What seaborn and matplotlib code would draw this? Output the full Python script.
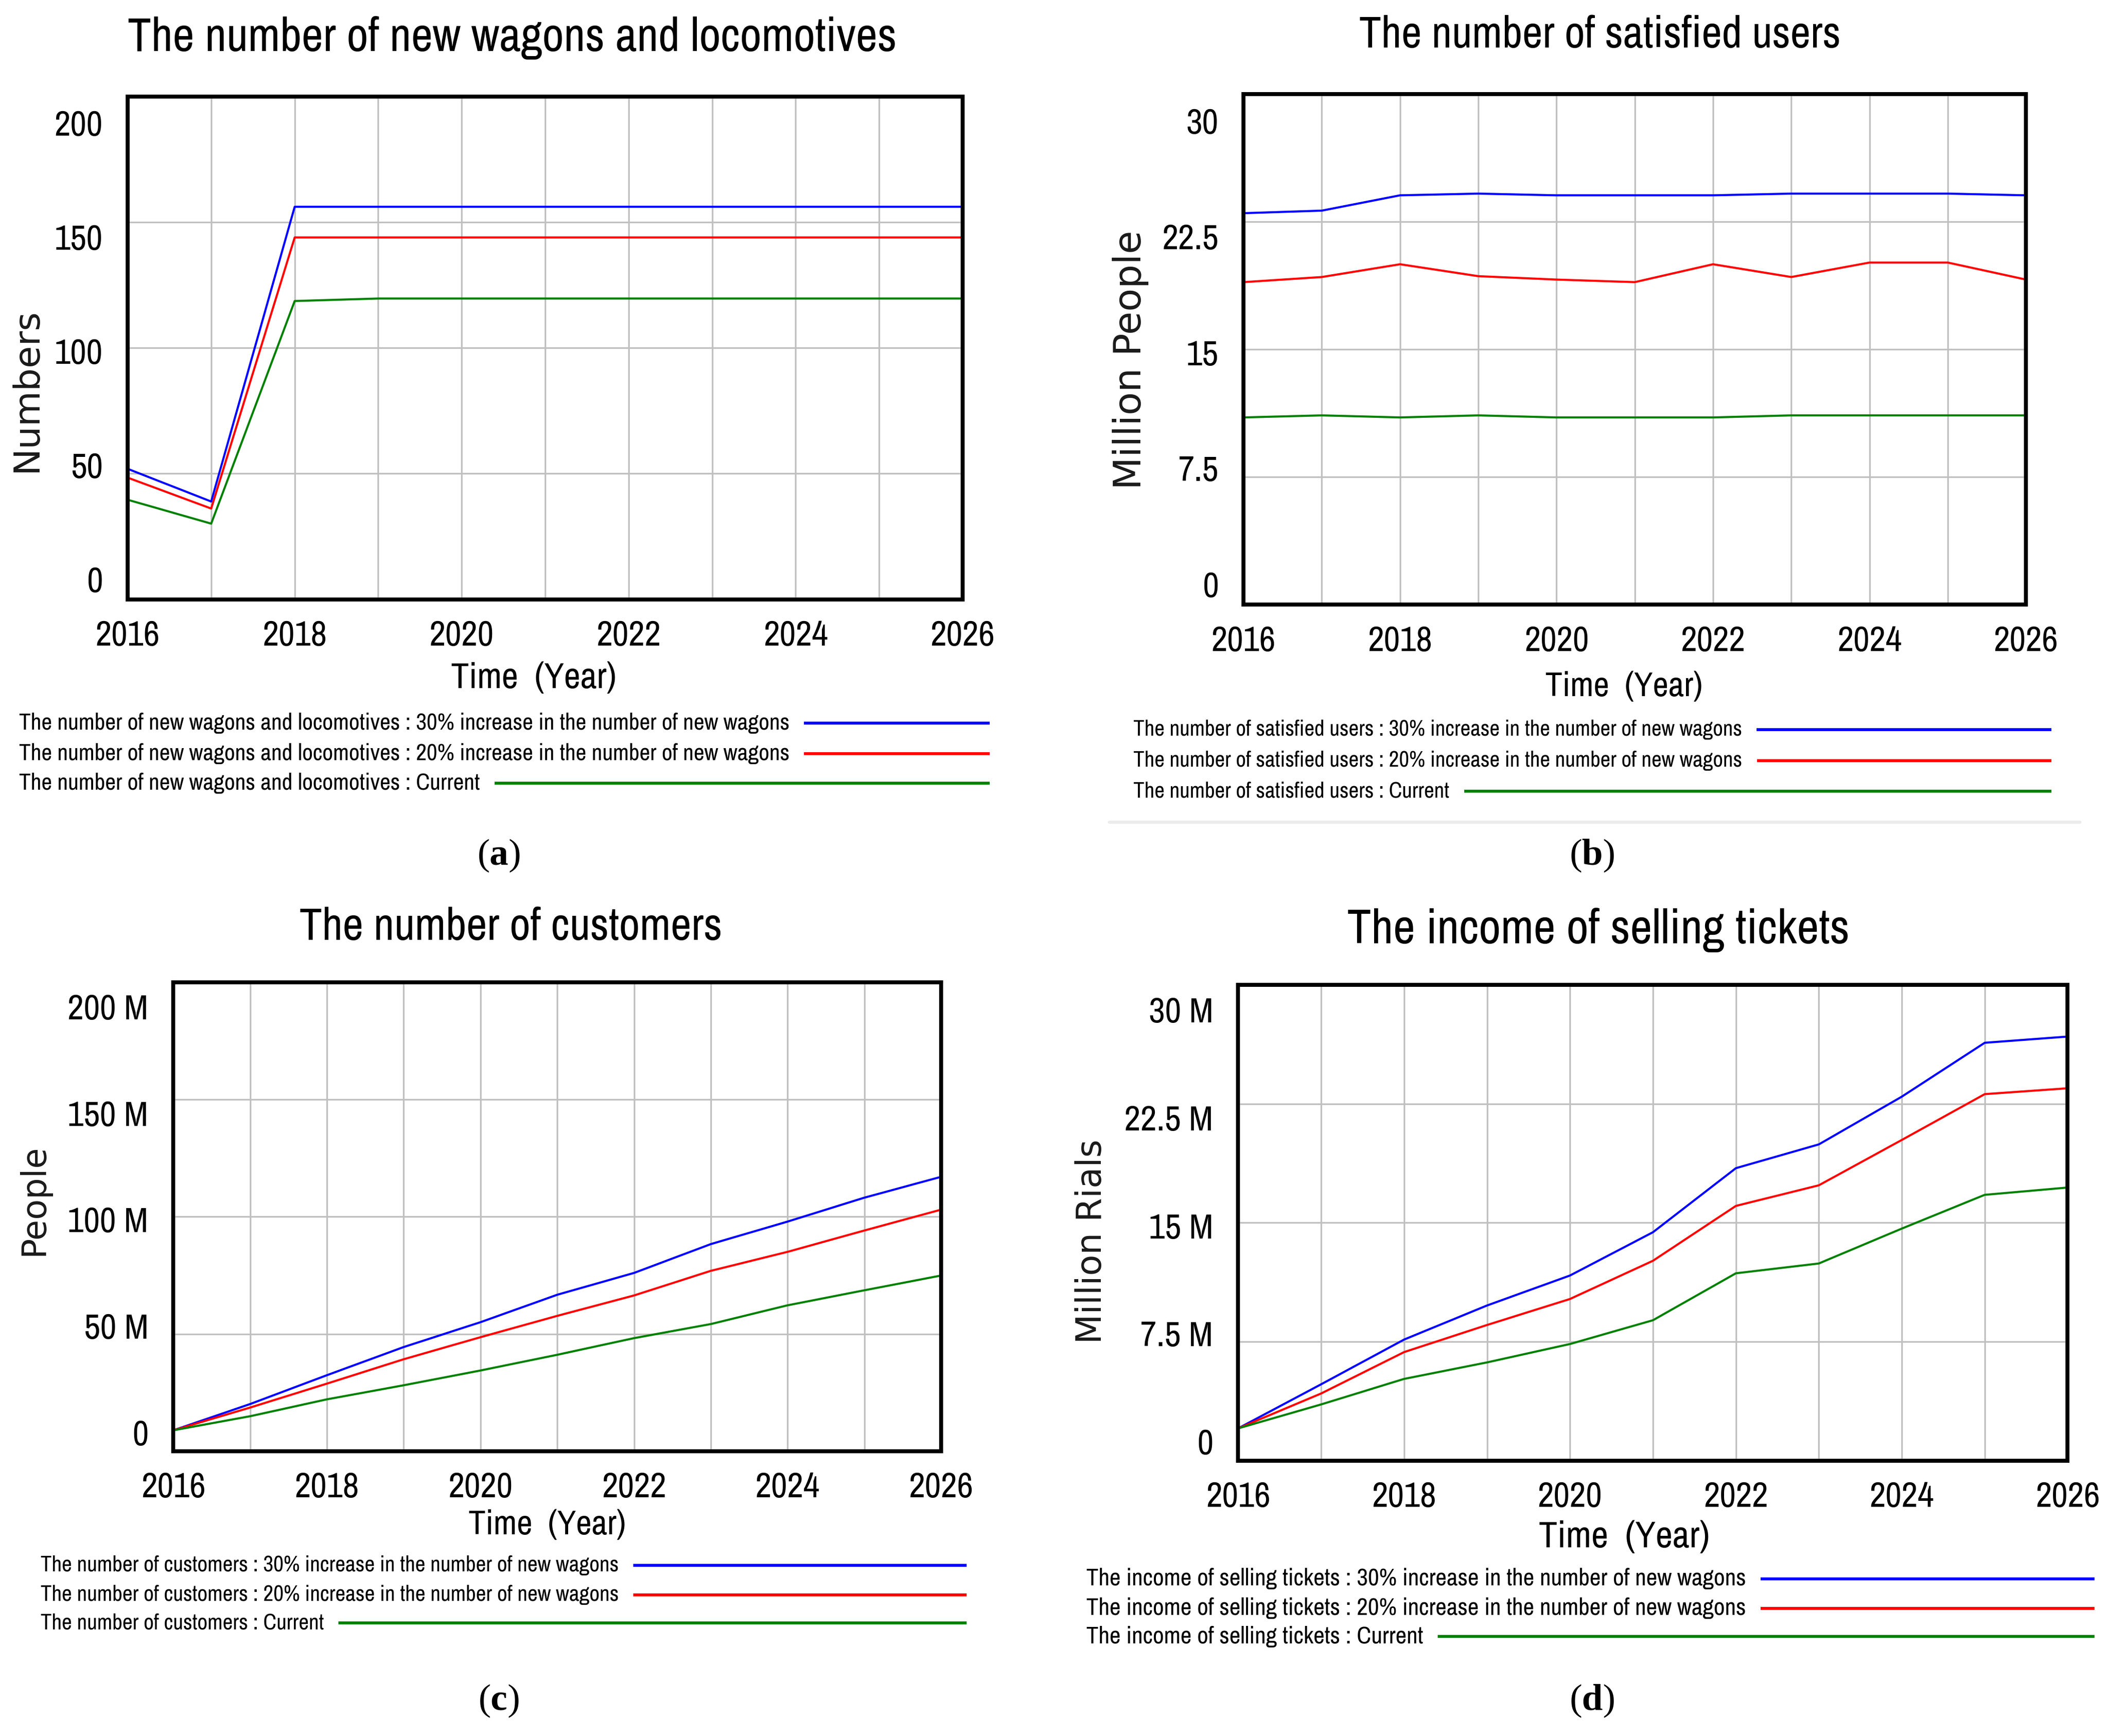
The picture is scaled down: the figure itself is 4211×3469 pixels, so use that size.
import numpy as np
import pandas as pd
import matplotlib
matplotlib.use("Agg")
import matplotlib.pyplot as plt
import seaborn as sns
from matplotlib.lines import Line2D
from matplotlib.ticker import FixedLocator, FixedFormatter

# ---------------- data ----------------
years = [2016, 2017, 2018, 2019, 2020, 2021, 2022, 2023, 2024, 2025, 2026]
scenarios = ["30% increase in the number of new wagons",
             "20% increase in the number of new wagons",
             "Current"]
colors = ["#0000ff", "#ff0000", "#008000"]

wagons_30 = [51.9, 38.9, 156.2, 156.2, 156.2, 156.2, 156.2, 156.2, 156.2, 156.2, 156.2]
wagons_20 = [48.4, 36.1, 144.0, 144.0, 144.0, 144.0, 144.0, 144.0, 144.0, 144.0, 144.0]
wagons_cur = [39.6, 30.1, 118.7, 119.7, 119.7, 119.7, 119.7, 119.7, 119.7, 119.7, 119.7]

users_30 = [23.0, 23.15, 24.05, 24.15, 24.05, 24.05, 24.05, 24.15, 24.15, 24.15, 24.05]
users_20 = [18.95, 19.25, 20.0, 19.3, 19.1, 18.95, 20.0, 19.25, 20.1, 20.1, 19.1]
users_cur = [11.0, 11.12, 11.0, 11.12, 11.0, 11.0, 11.0, 11.12, 11.12, 11.12, 11.12]

customers_30 = [8.9, 20.1, 32.4, 44.4, 55.0, 66.7, 76.0, 88.3, 97.9, 108.1, 117.0]
customers_20 = [8.9, 18.6, 28.8, 39.2, 48.6, 57.7, 66.4, 76.9, 85.0, 94.1, 103.0]
customers_cur = [8.9, 14.9, 22.1, 28.1, 34.4, 41.1, 48.2, 54.2, 62.2, 68.6, 74.9]

income_30 = [2.03, 4.81, 7.63, 9.78, 11.67, 14.40, 18.44, 19.94, 22.95, 26.35, 26.74]
income_20 = [2.03, 4.23, 6.84, 8.55, 10.19, 12.60, 16.06, 17.36, 20.22, 23.11, 23.48]
income_cur = [2.03, 3.54, 5.15, 6.19, 7.35, 8.85, 11.81, 12.43, 14.63, 16.76, 17.22]

titles = ["The number of new wagons and locomotives", "The number of satisfied users",
          "The number of customers", "The income of selling tickets"]
ylabels = ["Numbers", "Million People", "People", "Million Rials"]
ytick_values = [[0, 50, 100, 150, 200], [0, 7.5, 15, 22.5, 30],
                [0, 50, 100, 150, 200], [0, 7.5, 15, 22.5, 30]]
ytick_labels = [["0", "50", "100", "150", "200"], ["0", "7.5", "15", "22.5", "30"],
                ["0", "50 M", "100 M", "150 M", "200 M"], ["0", "7.5 M", "15 M", "22.5 M", "30 M"]]
xtick_labels = ["2016", "", "2018", "", "2020", "", "2022", "", "2024", "", "2026"]
xlabel_text = "Time  (Year)"
captions = ["a", "b", "c", "d"]

series = [[wagons_30, wagons_20, wagons_cur],
          [users_30, users_20, users_cur],
          [customers_30, customers_20, customers_cur],
          [income_30, income_20, income_cur]]

# ---------------- layout (reference pixel grid 1568 x 1292) ----------------
PW, PH = 1568.0, 1292.0
FW, FH = 4211, 3469
SCALE = FW / PW
def fx(x): return x / PW
def fy(y): return 1 - y / PH

layout = [
    dict(ax=(95, 72, 716, 446), title=(381, 28), tw=572, xlab=(397, 505), xw=123, ylab=(20, 290), yh=122,
         leg_x=14, leg_rows=[538, 561, 583], leg_end=736, lw=574, cap=(371, 637)),
    dict(ax=(925, 70, 1507, 450), title=(1190, 26), tw=359, xlab=(1208, 511), xw=117, ylab=(841, 268), yh=193,
         leg_x=843, leg_rows=[543, 566, 589], leg_end=1526, lw=453, cap=(1184, 637)),
    dict(ax=(129, 731, 700, 1080), title=(380, 690), tw=315, xlab=(407, 1135), xw=117, ylab=(25, 893), yh=83,
         leg_x=30, leg_rows=[1165, 1187, 1208], leg_end=719, lw=431, cap=(371, 1266)),
    dict(ax=(921, 733, 1538, 1087), title=(1189, 692), tw=374, xlab=(1208, 1144), xw=127, ylab=(812, 924), yh=152,
         leg_x=808, leg_rows=[1175, 1197, 1218], leg_end=1558, lw=491, cap=(1184, 1266)),
]

sns.set_theme(style="white")
NARROW = ["Archivo Narrow", "Liberation Sans Narrow", "DejaVu Sans"]
plt.rcParams["font.family"] = NARROW
plt.rcParams["mathtext.fontset"] = "custom"
plt.rcParams["mathtext.rm"] = "Liberation Serif"
plt.rcParams["mathtext.bf"] = "Liberation Serif:bold"

fig = plt.figure(figsize=(FW / 300, FH / 300), dpi=300)
fig.patch.set_facecolor("white")
renderer = fig.canvas.get_renderer()

def fit_width(t, target_preview_px, vertical=False):
    bb = t.get_window_extent(renderer)
    cur = bb.height if vertical else bb.width
    t.set_fontsize(t.get_fontsize() * target_preview_px * SCALE / cur)
    return t

# tick label size fitted to the width of "2016" in the reference (~48 px)
probe = fig.text(0, 0, "2016", fontsize=17)
fit_width(probe, 48)
TICK_SIZE = probe.get_fontsize()
probe.remove()

legend_texts = []
for i in range(4):
    L = layout[i]
    x0, y0, x1, y1 = L["ax"]
    ax = fig.add_axes([fx(x0), fy(y1), (x1 - x0) / PW, (y1 - y0) / PH])
    ax.set_facecolor("white")
    df = pd.DataFrame({"Year": years * 3,
                       "Value": series[i][0] + series[i][1] + series[i][2],
                       "Scenario": [scenarios[0]] * 11 + [scenarios[1]] * 11 + [scenarios[2]] * 11})
    sns.lineplot(data=df, x="Year", y="Value", hue="Scenario", palette=colors,
                 hue_order=scenarios, linewidth=1.0, ax=ax, legend=False, zorder=3)
    lo, hi = ytick_values[i][0], ytick_values[i][-1]
    ax.set_xlim(2016, 2026)
    ax.set_ylim(lo, hi)
    ax.set_xticks(years)
    ax.set_xticklabels(xtick_labels)
    ax.set_yticks(ytick_values[i])
    ax.set_yticklabels([""] * 5)
    # Vensim places the value labels slightly inside the axis span
    lab_pos = [lo + (hi - lo) * (0.5 + (k / 4 - 0.5) * 0.908 - 0.006) for k in range(5)]
    ax.yaxis.set_minor_locator(FixedLocator(lab_pos))
    ax.yaxis.set_minor_formatter(FixedFormatter(ytick_labels[i]))
    ax.tick_params(axis="y", which="major", length=0)
    ax.tick_params(axis="y", which="minor", length=0, labelsize=TICK_SIZE, pad=12, colors="black")
    ax.tick_params(axis="x", which="major", length=0, labelsize=TICK_SIZE, pad=10, colors="black")
    ax.grid(True, which="major", color="#c0c0c0", linewidth=0.8, zorder=0)
    ax.grid(False, which="minor")
    for s in ax.spines.values():
        s.set_color("black")
        s.set_linewidth(1.9)
        s.set_visible(True)
        s.set_zorder(4)
    ax.set_xlabel("")
    ax.set_ylabel("")

    t = fig.text(fx(L["title"][0]), fy(L["title"][1]), titles[i], ha="center", va="center",
                 fontsize=22, color="black")
    fit_width(t, L["tw"])
    t = fig.text(fx(L["xlab"][0]), fy(L["xlab"][1]), xlabel_text, ha="center", va="center",
                 fontsize=17, color="black")
    fit_width(t, L["xw"])
    t = fig.text(fx(L["ylab"][0]), fy(L["ylab"][1]), ylabels[i], ha="center", va="center",
                 rotation=90, fontsize=18, family=["DejaVu Sans"], color="#1a1a1a")
    fit_width(t, L["yh"], vertical=True)
    fig.text(fx(L["cap"][0]), fy(L["cap"][1]), "(" + r"$\mathbf{" + captions[i] + "}$" + ")",
             ha="center", va="center", fontsize=18, family=["Liberation Serif", "DejaVu Serif"],
             color="black")
    prefix = titles[i]
    texts = []
    for k in range(3):
        t = fig.text(fx(L["leg_x"]), fy(L["leg_rows"][k]), prefix + " : " + scenarios[k],
                     ha="left", va="center", fontsize=11, color="black")
        texts.append(t)
    fit_width(texts[0], L["lw"])
    for t in texts[1:]:
        t.set_fontsize(texts[0].get_fontsize())
    for k in range(3):
        legend_texts.append((texts[k], L["leg_rows"][k], L["leg_end"], colors[k]))

# light separator under legend (b)
fig.add_artist(Line2D([fx(825), fx(1547)], [fy(612), fy(612)], transform=fig.transFigure,
                      color="#ebebeb", linewidth=1.5))

fig.canvas.draw()
renderer = fig.canvas.get_renderer()
W = fig.bbox.width
for t, row, xend, c in legend_texts:
    bb = t.get_window_extent(renderer)
    xs = bb.x1 / W + 11 / PW
    fig.add_artist(Line2D([xs, fx(xend)], [fy(row), fy(row)], transform=fig.transFigure,
                          color=c, linewidth=1.4, solid_capstyle="butt"))

fig.savefig("out.png", dpi=300, facecolor="white")
